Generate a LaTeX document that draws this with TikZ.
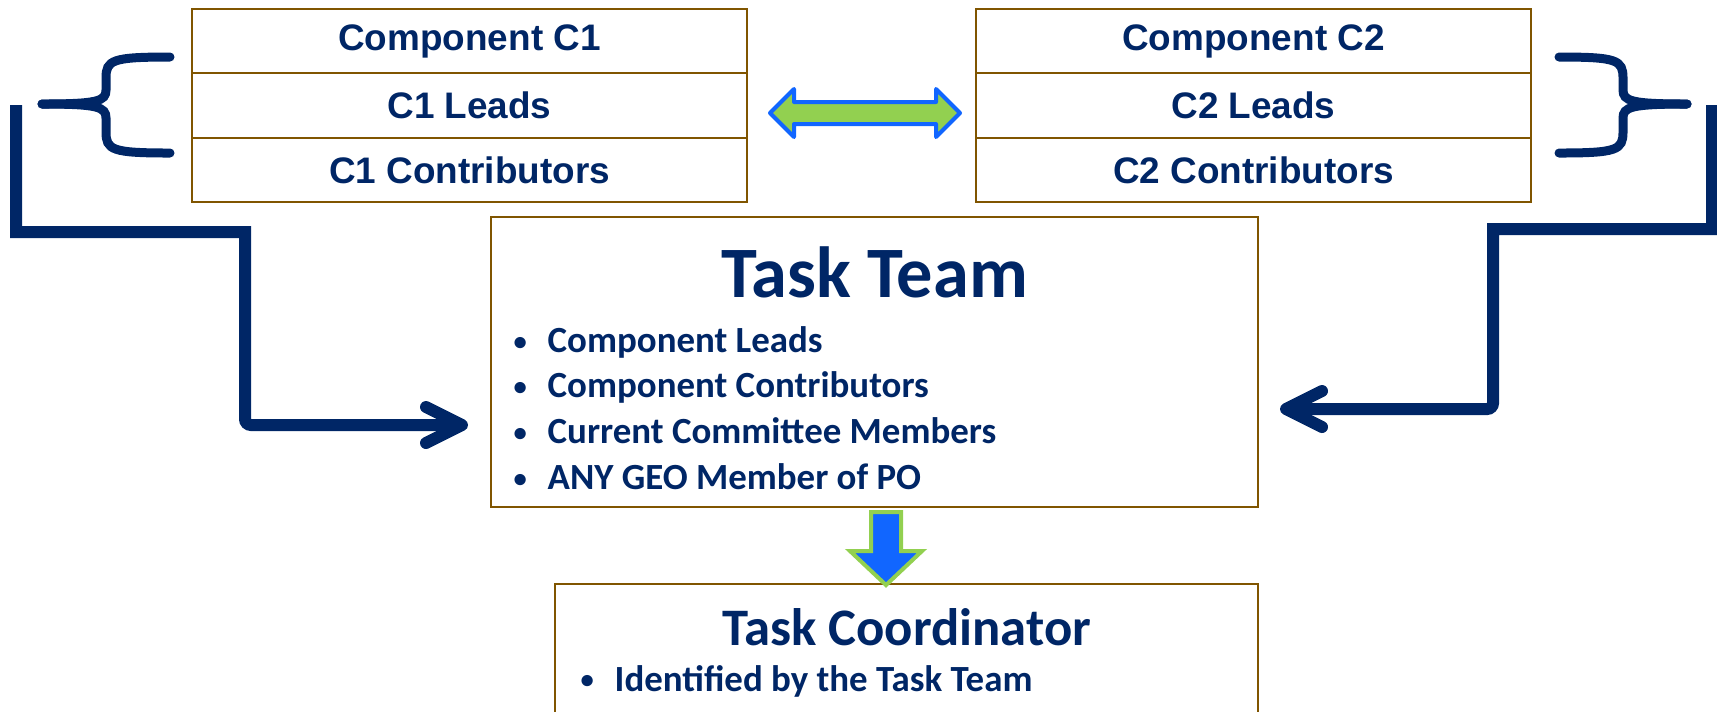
\documentclass[tikz,border=0pt]{standalone}
\usepackage{fontspec}
\usepackage{graphicx}
\setmainfont{Carlito}
\newfontfamily\arialfont{Liberation Sans}
\usetikzlibrary{arrows.meta,positioning}

\definecolor{navytext}{RGB}{0,38,102}
\definecolor{boxbrown}{RGB}{128,85,0}
\definecolor{arrowgreen}{RGB}{146,208,80}
\definecolor{arrowblue}{RGB}{17,102,255}

\newcommand{\itm}{\makebox[3.4mm][l]{\raisebox{0.12ex}{\scalebox{0.72}{\textbullet}}}}

\begin{document}
\begin{tikzpicture}[
  x=0.1mm, y=-0.1mm,
  node distance=0pt and 22.9mm,
  rowbox/.style={draw=boxbrown, line width=0.2mm, rectangle, minimum width=55.5mm, minimum height=6.45mm, outer sep=0pt, inner sep=0pt, text=navytext, font=\arialfont\bfseries\fontsize{10.5}{12}\selectfont},
  bigbox/.style={draw=boxbrown, line width=0.2mm, rectangle, outer sep=0pt, inner sep=0pt},
  headline/.style={text=navytext, inner sep=0pt},
  items/.style={text=navytext, font=\bfseries\fontsize{10.5}{13}\selectfont, align=left, inner sep=0pt, anchor=west},
  flow/.style={draw=navytext, line width=1.2mm, -{Straight Barb[length=3.6mm, width=3.6mm, round]}},
  curly/.style={draw=navytext, line width=0.9mm, line cap=round}
]
\useasboundingbox (0,0) rectangle (1717,711);

% component boxes
\node[rowbox] (c1head) at (469.5,41) {Component C1};
\node[rowbox, below=of c1head] (c1lead) {C1 Leads};
\node[rowbox, below=of c1lead] (c1contr) {C1 Contributors};
\node[rowbox, right=of c1head] (c2head) {Component C2};
\node[rowbox, below=of c2head] (c2lead) {C2 Leads};
\node[rowbox, below=of c2lead] (c2contr) {C2 Contributors};

% task team
\node[bigbox, minimum width=76.7mm, minimum height=29mm] (team) at (874.5,362) {};
\node[headline, font=\bfseries\fontsize{20.6}{24}\selectfont] (teamtitle) at (874.5,272) {Task Team};
\node[items] (teamlist) at (513,408) {\itm Component Leads\\ \itm Component Contributors\\ \itm Current Committee Members\\ \itm ANY GEO Member of PO};

% task coordinator
\node[bigbox, minimum width=70.3mm, minimum height=16mm] (coord) at (906.5,664) {};
\node[headline, font=\bfseries\fontsize{15}{18}\selectfont] (coordtitle) at (906.5,627) {Task Coordinator};
\node[items] (coordlist) at (580,681) {\itm Identified by the Task Team};

% double arrow between components
\coordinate (link) at (865,113);
\draw[draw=arrowblue, fill=arrowgreen, line width=0.4mm, line join=round, shift={(link)}]
  (-95,0) -- (-71,-24) -- (-71,-11) -- (71,-11) -- (71,-24) -- (95,0)
  -- (71,24) -- (71,11) -- (-71,11) -- (-71,24) -- cycle;

% down arrow to coordinator
\coordinate (down) at (886,512);
\draw[draw=arrowgreen, fill=arrowblue, line width=0.4mm, shift={(down)}]
  (-15,0) -- (15,0) -- (15,39) -- (36,39) -- (0,73) -- (-36,39) -- (-15,39) -- cycle;

% braces
\draw[curly] (170,57) .. controls (112,57) and (106,60) .. (106,78) -- (106,90)
  .. controls (106,101) and (98,104) .. (42,104);
\draw[curly] (42,104) .. controls (98,104) and (106,107) .. (106,118) -- (106,132)
  .. controls (106,150) and (112,153) .. (170,153);
\draw[curly] (1559,57) .. controls (1617,57) and (1623,60) .. (1623,78) -- (1623,90)
  .. controls (1623,101) and (1631,104) .. (1687,104);
\draw[curly] (1687,104) .. controls (1631,104) and (1623,107) .. (1623,118) -- (1623,132)
  .. controls (1623,150) and (1617,153) .. (1559,153);

% feeds into the task team
\coordinate (lfrom) at (16,105);
\coordinate (rfrom) at (1712,105);
\draw[flow, shorten >=2.3mm] (lfrom) -- (16,232) -- (245,232) [rounded corners=0.6mm] -- (245,425) -- ([yshift=-6.3mm]team.west);
\draw[flow, shorten >=2.2mm] (rfrom) -- (1712,229) -- (1493,229) [rounded corners=0.6mm] -- (1493,409) -- ([yshift=-4.7mm]team.east);
\end{tikzpicture}
\end{document}
